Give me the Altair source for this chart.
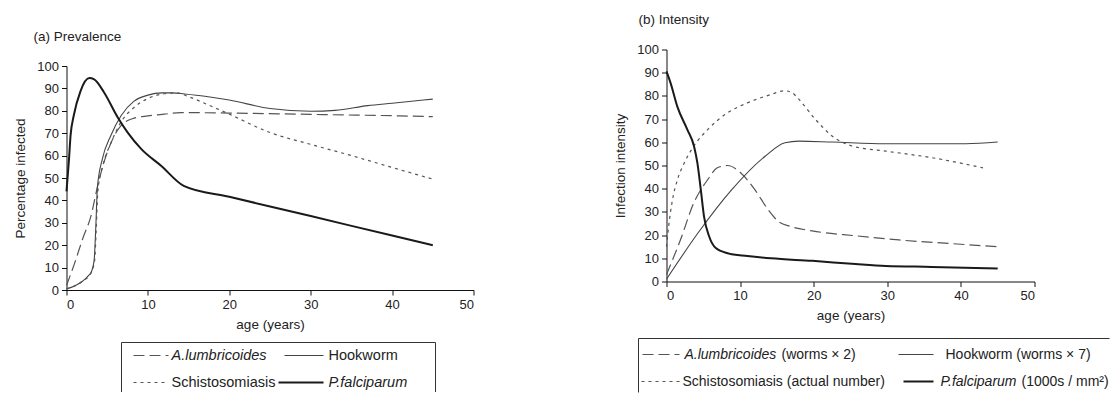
import altair as alt
import pandas as pd

# ---------------- Panel (a) Prevalence ----------------
a_lumb_age = [0, 1, 2, 3, 3.8, 4.6, 5.5, 6.7, 8.3, 10, 12, 14, 20, 30, 40, 45]
a_lumb_val = [2, 12, 23, 33, 46, 57, 66, 73.4, 76.7, 77.7, 78.5, 79.2, 79, 78.4, 77.8, 77.4]

a_hook_age = [0, 1, 2, 2.7, 3.1, 3.4, 3.6, 3.8, 4.4, 5.45, 6.7, 8.3, 10, 11.7, 13, 14.5, 17, 20, 25, 30, 33, 37, 40, 45]
a_hook_val = [0.5, 1.8, 4, 6.4, 8.5, 13.5, 28, 46, 58.4, 69, 77.8, 84.3, 87, 88, 88, 87.5, 86.5, 84.8, 81, 79.8, 80.2, 82.3, 83.4, 85.2]

a_schi_age = [0, 2, 3, 3.45, 3.65, 3.85, 4.5, 5.5, 6.7, 8.3, 10, 12, 13.5, 15, 17.5, 20, 25, 30, 35, 40, 45]
a_schi_val = [0.5, 4, 7.5, 13, 27, 44, 56, 66, 75, 81.5, 85.5, 87.6, 88, 86.3, 82.5, 78.5, 70.3, 65, 60, 54.7, 49.5]

a_pf_age = [0, 0.3, 0.5, 0.9, 1.7, 2.8, 3.4, 4.6, 6.3, 7.5, 9.2, 11.65, 14.4, 20, 30, 40, 45]
a_pf_val = [44, 58, 69, 78, 88.6, 94.6, 94, 88.3, 77, 70.4, 62.9, 55.4, 46.5, 41.6, 33, 24.3, 20]

# ---------------- Panel (b) Intensity ----------------
b_lumb_age = [0, 1.9, 3.7, 5.6, 6.9, 8.3, 10.1, 12, 13.8, 15.2, 16.9, 19.8, 25.7, 31.6, 38.4, 45]
b_lumb_val = [3, 18, 33.8, 43.9, 49, 50, 46.8, 39.6, 31, 25.9, 23.7, 21.8, 19.7, 17.9, 16.4, 15]

b_hook_age = [0, 4.3, 8.9, 13.4, 16.1, 18, 22.5, 29.8, 36, 40.7, 45]
b_hook_val = [1, 21, 39.7, 54, 59.8, 60.5, 60.1, 59.4, 59.4, 59.4, 60.1]

b_schi_age = [0, 0.3, 0.8, 1.5, 2.4, 3.7, 5.6, 8.3, 11, 14.2, 16, 17, 18, 20.2, 22.5, 25.2, 29.8, 36, 43]
b_schi_val = [15, 24, 35, 44, 51, 58.3, 65.5, 72.7, 77, 80.6, 82.2, 81.5, 78.5, 70, 62.7, 58.4, 56.2, 53.4, 49]

b_pf_age = [0, 0.55, 1.46, 2.83, 3.74, 4.2, 4.66, 5.1, 5.8, 6.7, 8.3, 11, 14.2, 19.8, 25.7, 29.8, 36, 45]
b_pf_val = [90.6, 85.6, 75.5, 65.5, 58.3, 51, 39.6, 28, 19.4, 14.4, 12.2, 11, 10, 8.9, 7.5, 6.7, 6.3, 5.6]

x_ticks = [0, 10, 20, 30, 40, 50]
y_ticks = [0, 10, 20, 30, 40, 50, 60, 70, 80, 90, 100]

FONT = "Liberation Sans"
TXT = "#222222"

STYLES = {
    "lumb": dict(color="#555555", strokeWidth=1.2, strokeDash=[11, 5]),
    "hook": dict(color="#444444", strokeWidth=1.1),
    "schi": dict(color="#555555", strokeWidth=1.2, strokeDash=[3, 4]),
    "pf": dict(color="#1a1a1a", strokeWidth=2.0),
    "box": dict(color="#333333", strokeWidth=1),
}


def px_scales(W, H):
    return (alt.Scale(domain=[0, W], nice=False, zero=False, padding=0),
            alt.Scale(domain=[0, H], nice=False, zero=False, reverse=True, padding=0))


def series_layer(ages, vals, key, xs, ys):
    df = pd.DataFrame({"age": ages, "value": vals})
    return alt.Chart(df).mark_line(interpolate="monotone", **STYLES[key]).encode(x=xs, y=ys)


def panel(series, ytitle, w, h):
    xs = alt.X("age:Q", scale=alt.Scale(domain=[0, 50], nice=False, padding=0),
               axis=alt.Axis(values=x_ticks, title="age (years)", format="d"))
    ys = alt.Y("value:Q", scale=alt.Scale(domain=[0, 100], nice=False, padding=0),
               axis=alt.Axis(values=y_ticks, title=ytitle, format="d"))
    layers = [series_layer(a, v, k, xs, ys) for a, v, k in series]
    return alt.layer(*layers).properties(width=w, height=h)


def title_chart(text, x, y, W, H):
    xs, ys = px_scales(W, H)
    df = pd.DataFrame({"text": [text], "x": [x], "y": [y]})
    return alt.Chart(df).mark_text(
        align="left", baseline="middle", fontSize=13.5, font=FONT, color=TXT).encode(
        x=alt.X("x:Q", scale=xs, axis=None), y=alt.Y("y:Q", scale=ys, axis=None),
        text="text:N").properties(width=W, height=H)


def legend(rules, texts, W, H, fs):
    xs, ys = px_scales(W, H)
    layers = []
    for key, x1, x2, y1, y2 in rules:
        df = pd.DataFrame({"x": [x1], "x2": [x2], "y": [y1], "y2": [y2]})
        layers.append(alt.Chart(df).mark_rule(**STYLES[key]).encode(
            x=alt.X("x:Q", scale=xs, axis=None), x2="x2:Q",
            y=alt.Y("y:Q", scale=ys, axis=None), y2="y2:Q"))
    for style in ["normal", "italic"]:
        rows = [t for t in texts if t[3] == style]
        df = pd.DataFrame(rows, columns=["text", "x", "y", "style"])
        layers.append(alt.Chart(df).mark_text(
            align="left", baseline="middle", fontSize=fs, font=FONT, color=TXT,
            fontStyle=style).encode(
            x=alt.X("x:Q", scale=xs, axis=None),
            y=alt.Y("y:Q", scale=ys, axis=None), text="text:N"))
    return alt.layer(*layers).properties(width=W, height=H)


left_plot = panel(
    [(a_lumb_age, a_lumb_val, "lumb"), (a_hook_age, a_hook_val, "hook"),
     (a_schi_age, a_schi_val, "schi"), (a_pf_age, a_pf_val, "pf")],
    "Percentage infected", 407, 224)

right_plot = panel(
    [(b_lumb_age, b_lumb_val, "lumb"), (b_hook_age, b_hook_val, "hook"),
     (b_schi_age, b_schi_val, "schi"), (b_pf_age, b_pf_val, "pf")],
    "Infection intensity", 368, 232)

left_title = title_chart("(a) Prevalence", -33, 29, 200, 42)
right_title = title_chart("(b) Intensity", -28, 12, 200, 20.5)

left_legend = legend(
    [("box", 55, 369, 1.5, 1.5), ("box", 55, 55, 1.5, 51), ("box", 369, 369, 1.5, 51),
     ("lumb", 67, 102, 14.5, 14.5), ("hook", 218, 257, 14.5, 14.5),
     ("schi", 67, 102, 41.5, 41.5), ("pf", 212, 257, 41.5, 41.5)],
    [("A.lumbricoides", 105, 14.5, "italic"), ("Hookworm", 262, 14.5, "normal"),
     ("Schistosomiasis", 105, 41.5, "normal"), ("P.falciparum", 262, 41.5, "italic")],
    372, 51, 14.5)

right_legend = legend(
    [("box", -28, 443, 1.5, 1.5), ("box", -28, -28, 1.5, 55.5),
     ("lumb", -24, 13, 17.5, 17.5), ("hook", 232, 267, 17.5, 17.5),
     ("schi", -25, 15, 44.5, 44.5), ("pf", 237, 267, 44.5, 44.5)],
    [("A.lumbricoides", 18, 17.5, "italic"), ("(worms × 2)", 115, 17.5, "normal"),
     ("Hookworm (worms × 7)", 279, 17.5, "normal"),
     ("Schistosomiasis (actual number)", 16, 44.5, "normal"),
     ("P.falciparum", 274, 44.5, "italic"), ("(1000s / mm²)", 355, 44.5, "normal")],
    443, 55.5, 14)

chart = alt.hconcat(
    alt.vconcat(left_title, left_plot, left_legend, spacing=10),
    alt.vconcat(right_title, right_plot, right_legend, spacing=14.5),
    spacing=139,
).properties(
    padding={"left": 5.5, "top": 0, "right": 0, "bottom": 0}
).configure_view(stroke=None).configure_axis(
    grid=False, domainColor="#111111", tickColor="#111111", tickSize=5,
    labelFont=FONT, labelFontSize=13, labelColor=TXT, labelPadding=3,
    titleFont=FONT, titleFontSize=13.5, titleColor=TXT, titleFontWeight="normal",
).configure_axisX(titlePadding=6).configure_axisY(titlePadding=9)

chart.save("out.html", embed_options={"renderer": "svg", "actions": False})
